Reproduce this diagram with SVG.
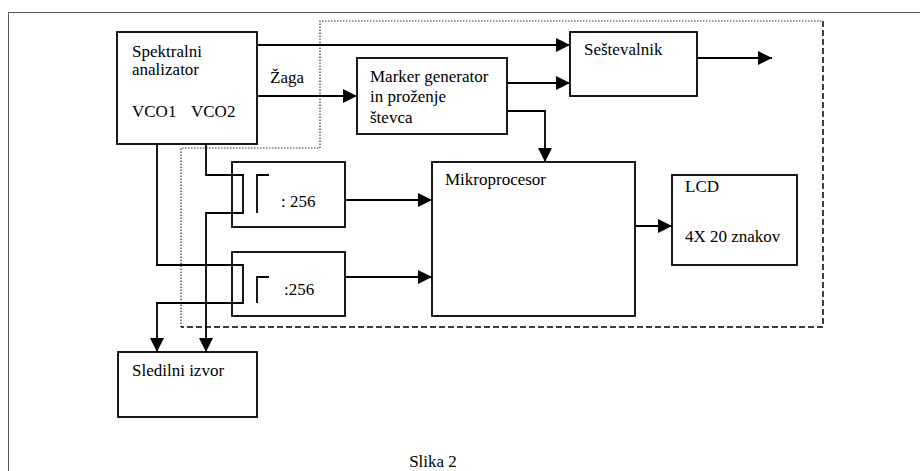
<svg xmlns="http://www.w3.org/2000/svg" width="920" height="471" viewBox="0 0 920 471">
<style>
.box{fill:#fff;stroke:#000;stroke-width:1.8}
.t{font-family:"Liberation Serif","Times New Roman",serif;font-size:17px;fill:#000}
.w{fill:none;stroke:#000;stroke-width:1.8}
.wa{fill:none;stroke:#000;stroke-width:1.8;marker-end:url(#ah)}
.dot{fill:none;stroke:#333;stroke-width:1.2;stroke-dasharray:1.5 1.5}
.dash{fill:none;stroke:#000;stroke-width:1.5;stroke-dasharray:6 3}
</style>
<defs>
<marker id="ah" markerUnits="userSpaceOnUse" markerWidth="15" markerHeight="15" refX="14" refY="7" orient="auto">
<path d="M0,0 L14,7 L0,14 z" fill="#000"/>
</marker>
</defs>
<rect width="920" height="471" fill="#fff"/>
<path d="M8.5,471 V12.5 H920" fill="none" stroke="#555" stroke-width="1"/>
<g id="region">
<path class="dot" d="M181,327 V148 H320 V21 H823"/>
<path class="dash" d="M823,21 V327 H181"/>
</g>
<g id="spektralni">
<rect class="box" x="117" y="32" width="140" height="112"/>
<text class="t" x="132" y="57">Spektralni</text>
<text class="t" x="132" y="75">analizator</text>
<text class="t" x="132" y="117">VCO1</text>
<text class="t" x="191" y="117">VCO2</text>
</g>
<g id="marker">
<rect class="box" x="357" y="58" width="150" height="76"/>
<text class="t" x="370" y="82">Marker generator</text>
<text class="t" x="370" y="102">in proženje</text>
<text class="t" x="370" y="123">števca</text>
</g>
<g id="sestevalnik">
<rect class="box" x="570" y="32" width="127" height="64"/>
<text class="t" x="584" y="55">Seštevalnik</text>
</g>
<g id="div1">
<rect class="box" x="232" y="162" width="113" height="65"/>
<path class="w" d="M257,213 V175 H269"/>
<text class="t" x="281" y="207">: 256</text>
</g>
<g id="div2">
<rect class="box" x="232" y="252" width="113" height="64"/>
<path class="w" d="M257,303 V277 H269"/>
<text class="t" x="284" y="295">:256</text>
</g>
<g id="mikroprocesor">
<rect class="box" x="432" y="162" width="203" height="154"/>
<text class="t" x="445" y="185">Mikroprocesor</text>
</g>
<g id="lcd">
<rect class="box" x="672" y="175" width="125" height="90"/>
<text class="t" x="685" y="192">LCD</text>
<text class="t" x="685" y="242">4X 20 znakov</text>
</g>
<g id="sledilni">
<rect class="box" x="118" y="352" width="139" height="65"/>
<text class="t" x="132" y="376">Sledilni izvor</text>
</g>
<g id="connectors">
<path class="wa" d="M257,45 H570"/>
<path class="wa" d="M257,96 H357"/>
<text class="t" x="270" y="83">Žaga</text>
<path class="wa" d="M507,83 H570"/>
<path class="wa" d="M507,111 H545 V162"/>
<path class="wa" d="M697,58 H772"/>
<path class="wa" d="M345,200 H432"/>
<path class="wa" d="M345,277 H432"/>
<path class="wa" d="M635,226 H672"/>
<path class="wa" d="M206,144 V175 H243 V213 H206 V352"/>
<path class="wa" d="M157,144 V265 H243 V303 H157 V352"/>
</g>
<text class="t" x="433" y="467" text-anchor="middle">Slika 2</text>
</svg>
